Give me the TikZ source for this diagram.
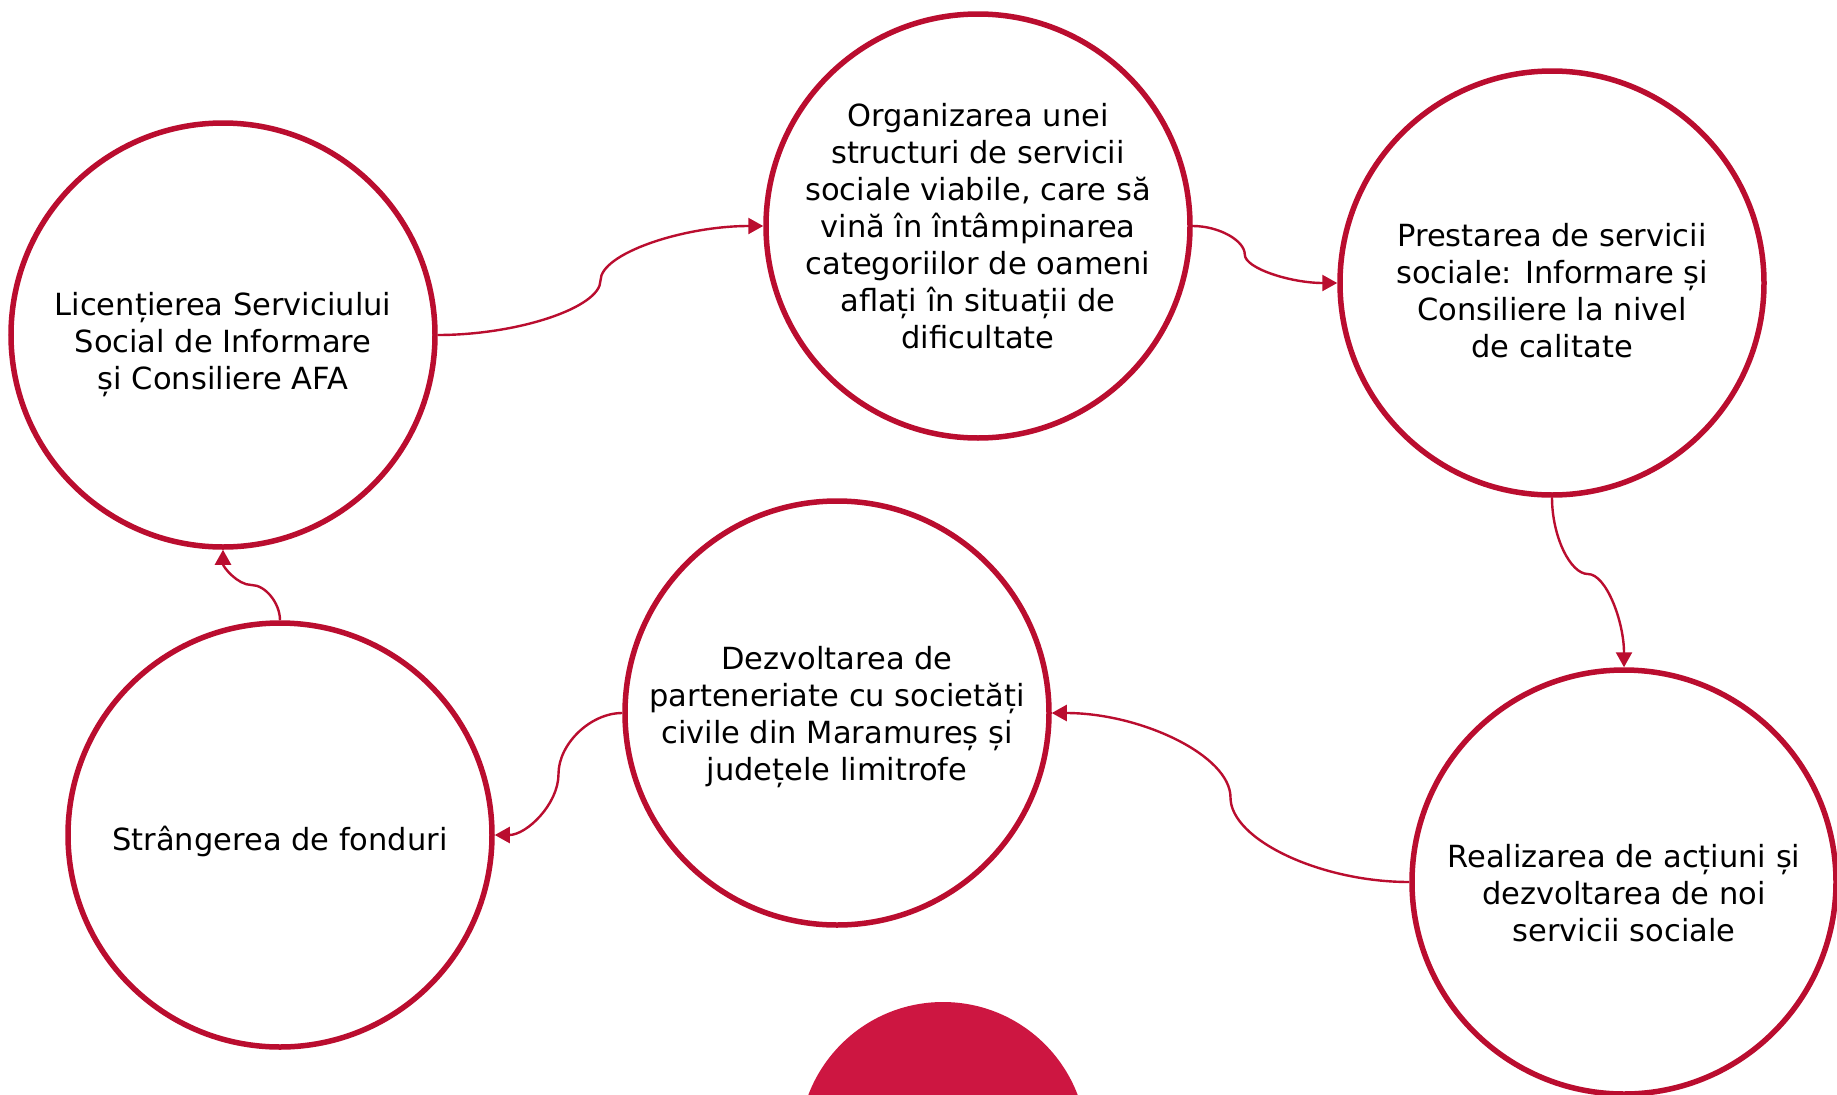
\documentclass[tikz,border=0pt]{standalone}
\usepackage{fontspec}
\setmainfont{DejaVu Sans}
\usetikzlibrary{arrows.meta,calc}
\definecolor{ring}{RGB}{186,13,47}
\definecolor{blob}{RGB}{205,22,65}
\begin{document}
\begin{tikzpicture}[x=1pt,y=-1pt,
  stage/.style={circle,draw=ring,line width=5.5pt,minimum size=424pt,inner sep=0pt},
  words/.style={align=center,text=black,inner sep=0pt,font=\fontsize{30.5}{37}\selectfont},
  conn/.style={draw=ring,line width=2.4pt,-{Triangle[length=15pt,width=16pt]}}]
\useasboundingbox (0,0) rectangle (1837,1095);
\clip (0,0) rectangle (1837,1095);
\fill[white] (0,0) rectangle (1837,1095);

\node[stage] (c1) at (223,335) {};
\node[stage] (c2) at (978,226) {};
\node[stage] (c3) at (1552,283) {};
\node[stage] (c4) at (1624,882) {};
\node[stage] (c5) at (837,713) {};
\node[stage] (c6) at (280,835) {};
\node[circle,fill=blob,minimum size=288pt,inner sep=0pt] (blob) at (943,1146) {};

\node[words] (t1) at ($(c1)+(0,10)$) {Licențierea Serviciului\\Social de Informare\\și Consiliere AFA};
\node[words] (t2) at ($(c2)+(0,0)$) {Organizarea unei\\structuri de servicii\\sociale viabile, care să\\vină în întâmpinarea\\categoriilor de oameni\\aflați în situații de\\dificultate};
\node[words] (t3) at ($(c3)+(0,8)$) {Prestarea de servicii\\sociale: Informare și\\Consiliere la nivel\\de calitate};
\node[words] (t4) at ($(c4)+(0,11)$) {Realizarea de acțiuni și\\dezvoltarea de noi\\servicii sociale};
\node[words] (t5) at ($(c5)+(0,4)$) {Dezvoltarea de\\parteneriate cu societăți\\civile din Maramureș și\\județele limitrofe};
\node[words] (t6) at ($(c6)+(0,6)$) {Strângerea de fonduri};

% midpoints
\coordinate (m12) at ($(c1.east)!0.5!(c2.west)$);
\coordinate (p23) at ($(c2.east)!0.36!(c3.west)$);
\coordinate (q23) at ($(c2.east)!0.5!(c3.west)$);
\coordinate (m23) at (p23 |- q23);
\coordinate (p34) at ($(c3.south)!0.45!(c4.north)$);
\coordinate (q34) at ($(c3.south)!0.5!(c4.north)$);
\coordinate (m34) at (q34 |- p34);
\coordinate (m45) at ($(c4.west)!0.5!(c5.east)$);
\coordinate (m56) at ($(c5.west)!0.5!(c6.east)$);
\coordinate (m61) at ($(c6.north)!0.5!(c1.south)$);

\draw[conn] (c1.east) .. controls +(80,0) and +(0,27) .. (m12)
  .. controls +(0,-27) and +(-80,0) .. (c2.west);
\draw[conn] (c2.east) .. controls +(26,0) and +(0,-14) .. (m23)
  .. controls +(0,14) and +(-46,0) .. (c3.west);
\draw[conn] (c3.south) .. controls +(0,38) and +(-18,0) .. (m34)
  .. controls +(18,0) and +(0,-46) .. (c4.north);
\draw[conn] (c4.west) .. controls +(-89,0) and +(0,42) .. (m45)
  .. controls +(0,-42) and +(89,0) .. (c5.east);
\draw[conn] (c5.west) .. controls +(-32,0) and +(0,-30) .. (m56)
  .. controls +(0,30) and +(32,0) .. (c6.east);
\draw[conn] (c6.north) .. controls +(0,-17) and +(14,0) .. (m61)
  .. controls +(-14,0) and +(0,17) .. (c1.south);
\end{tikzpicture}
\end{document}
